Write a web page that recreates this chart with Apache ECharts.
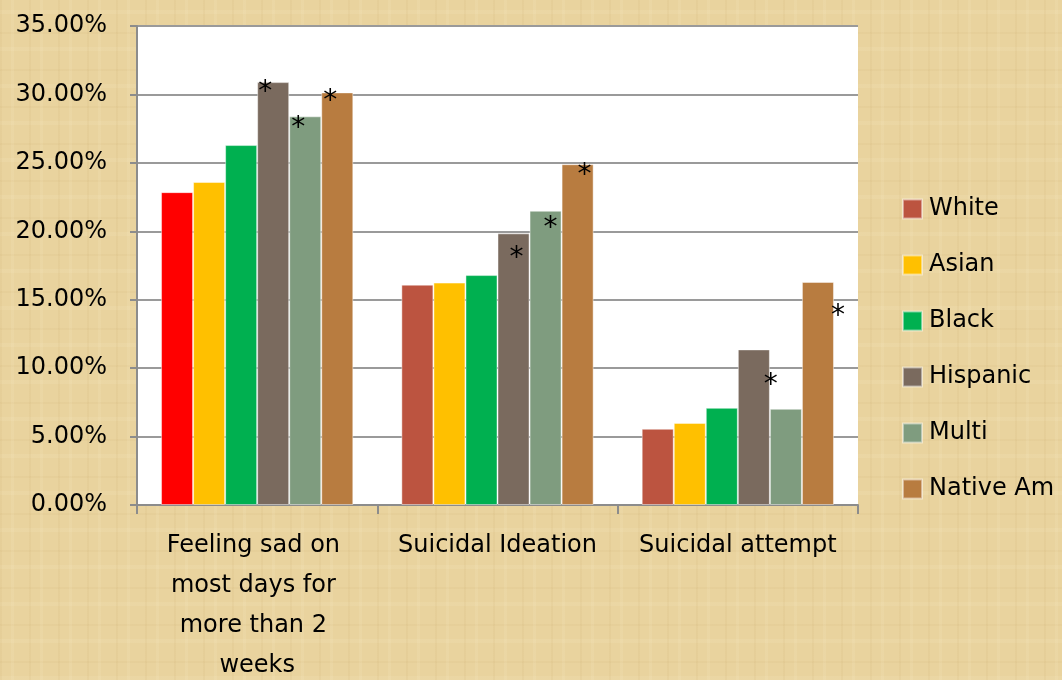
<!DOCTYPE html>
<html>
<head>
<meta charset="utf-8">
<script src="https://cdn.jsdelivr.net/npm/echarts@6/dist/echarts.min.js"></script>
<style>
  html, body { margin:0; padding:0; }
  body {
    width:1062px; height:680px; overflow:hidden;
    background-color:#e9d39e;
    background-image:
      repeating-linear-gradient(90deg, rgba(170,130,60,0.06) 0 2px, transparent 2px 11px, rgba(255,245,215,0.10) 11px 14px, transparent 14px 29px),
      repeating-linear-gradient(0deg, rgba(255,245,215,0.10) 0 4px, transparent 4px 17px, rgba(170,130,60,0.05) 17px 19px, transparent 19px 37px);
  }
  #chart { width:1062px; height:680px; }
</style>
</head>
<body>
<div id="chart"></div>
<script>
// ---- data ----
const categories = ['Feeling sad on most days for more than 2 weeks', 'Suicidal Ideation', 'Suicidal attempt'];
const seriesNames = ['White', 'Asian', 'Black', 'Hispanic', 'Multi', 'Native Am'];
const white    = [22.86, 16.1, 5.57];
const asian    = [23.6, 16.25, 6.0];
const black    = [26.3, 16.8, 7.1];
const hispanic = [30.9, 19.85, 11.37];
const multi    = [28.4, 21.5, 7.03];
const nativeAm = [30.15, 24.9, 16.3];
// significance markers (1 = asterisk)
const whiteStars    = [0, 0, 0];
const asianStars    = [0, 0, 0];
const blackStars    = [0, 0, 0];
const hispanicStars = [1, 1, 1];
const multiStars    = [1, 1, 0];
const nativeAmStars = [1, 1, 1];
const yTicks = [0, 5, 10, 15, 20, 25, 30, 35];

// ---- styling ----
const colors = ['#BC5440', '#FFC000', '#00B050', '#7A6A5E', '#7F9C7F', '#B87C40'];
const allValues = [white, asian, black, hispanic, multi, nativeAm];
const allStars = [whiteStars, asianStars, blackStars, hispanicStars, multiStars, nativeAmStars];
// label offsets for asterisks [series][category]
const starOffsets = {
  3: [[-8, -3], [3, 11], [17, 22]],
  4: [[-7, -2], [5, 4], [0, 0]],
  5: [[-7, -5], [7, -3], [20, 21]]
};
const FONT = 'DejaVu Sans';

const series = seriesNames.map((name, s) => ({
  name: name,
  type: 'bar',
  barGap: '0%',
  barCategoryGap: '20%',
  itemStyle: { color: colors[s], borderColor: 'rgba(255,255,255,0.45)', borderWidth: 1 },
  data: allValues[s].map((v, i) => {
    const item = { value: v };
    if (s === 0 && i === 0) item.itemStyle = { color: '#FF0000' };
    if (allStars[s][i]) {
      item.label = {
        show: true, formatter: '*', position: 'insideTop', distance: 0,
        offset: starOffsets[s][i], fontSize: 28, fontFamily: FONT, color: '#000'
      };
    }
    return item;
  })
}));

const chart = echarts.init(document.getElementById('chart'), null, { renderer: 'canvas' });
chart.setOption({
  backgroundColor: 'transparent',
  animation: false,
  textStyle: { fontFamily: FONT },
  grid: { left: 137, right: 204, top: 26, bottom: 175, show: true, backgroundColor: '#ffffff', borderWidth: 0, outerBoundsMode: 'none', containLabel: false },
  legend: {
    orient: 'vertical', left: 902, top: 197, padding: 0,
    itemWidth: 19, itemHeight: 19, itemGap: 32,
    icon: 'rect',
    textStyle: { fontSize: 24, fontFamily: FONT, color: '#000', lineHeight: 24, padding: [0, 0, 0, 2] },
    data: seriesNames
  },
  xAxis: {
    type: 'category', data: categories,
    axisLine: { lineStyle: { color: '#8c8c8c', width: 2 } },
    axisTick: { show: true, length: 9, lineStyle: { color: '#8c8c8c', width: 2 } },
    axisLabel: {
      fontSize: 24, fontFamily: FONT, color: '#000', margin: 21, lineHeight: 40,
      width: 200, overflow: 'break', interval: 0
    }
  },
  yAxis: {
    type: 'value', min: yTicks[0], max: yTicks[yTicks.length - 1], interval: 5,
    axisLine: { show: true, lineStyle: { color: '#8c8c8c', width: 2 } },
    axisTick: { show: true, length: 7, lineStyle: { color: '#8c8c8c', width: 2 } },
    splitLine: { lineStyle: { color: '#9a9a9a', width: 2 } },
    axisLabel: {
      fontSize: 24, fontFamily: FONT, color: '#000', margin: 30,
      formatter: v => v.toFixed(2) + '%'
    }
  },
  series: series
});
</script>
</body>
</html>
